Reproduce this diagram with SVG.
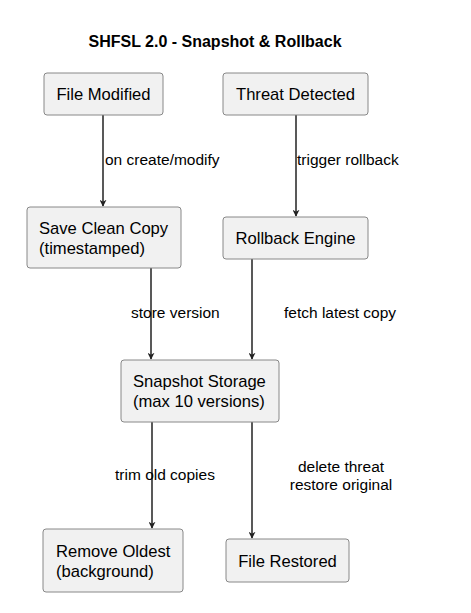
<svg xmlns="http://www.w3.org/2000/svg" width="471" height="613" viewBox="0 0 471 613">
<defs>
<style>
.n{fill:#f1f1f1;stroke:#888;stroke-width:1}
.t{font-family:"Liberation Sans",Arial,sans-serif;font-size:16.6px;fill:#000;text-anchor:middle}
.s{font-family:"Liberation Sans",Arial,sans-serif;font-size:16.6px;fill:#000;text-anchor:start}
.l{font-family:"Liberation Sans",Arial,sans-serif;font-size:15.5px;fill:#000}
.e{stroke:#222;stroke-width:1.5;fill:none;marker-end:url(#ah)}
</style>
<marker id="ah" viewBox="0 0 10 10" refX="9" refY="5" markerWidth="7" markerHeight="7" markerUnits="userSpaceOnUse" orient="auto">
<path d="M0,0 L10,5 L0,10 L3,5 z" fill="#222"/>
</marker>
</defs>
<rect width="471" height="613" fill="#fff"/>
<text x="215" y="47" font-family="Liberation Sans,Arial,sans-serif" font-size="16" font-weight="bold" text-anchor="middle">SHFSL 2.0 - Snapshot &amp; Rollback</text>
<g id="edges">
<line class="e" x1="103" y1="115" x2="103" y2="206"/>
<line class="e" x1="296" y1="115" x2="296" y2="216"/>
<line class="e" x1="151" y1="268" x2="151" y2="359"/>
<line class="e" x1="252" y1="259" x2="252" y2="359"/>
<line class="e" x1="152" y1="422" x2="152" y2="528"/>
<line class="e" x1="252" y1="422" x2="252" y2="538"/>
<text class="l" x="105" y="165">on create/modify</text>
<text class="l" x="297" y="165">trigger rollback</text>
<text class="l" x="131" y="318">store version</text>
<text class="l" x="284" y="318">fetch latest copy</text>
<text class="l" x="115" y="480">trim old copies</text>
<text class="l" x="341" y="472" text-anchor="middle">delete threat</text>
<text class="l" x="341" y="490" text-anchor="middle">restore original</text>
</g>
<g id="file-modified"><rect class="n" x="44" y="73" width="119" height="42" rx="3"/><text class="t" x="103.5" y="100">File Modified</text></g>
<g id="threat-detected"><rect class="n" x="223" y="73" width="145" height="42" rx="3"/><text class="t" x="295.5" y="100">Threat Detected</text></g>
<g id="save-clean-copy"><rect class="n" x="27" y="207" width="154" height="61" rx="3"/><text class="s" x="39" y="234">Save Clean Copy</text><text class="s" x="39" y="254">(timestamped)</text></g>
<g id="rollback-engine"><rect class="n" x="223" y="217" width="145" height="42" rx="3"/><text class="t" x="295.5" y="244">Rollback Engine</text></g>
<g id="snapshot-storage"><rect class="n" x="121" y="360" width="158" height="62" rx="3"/><text class="s" x="133" y="387">Snapshot Storage</text><text class="s" x="133" y="407">(max 10 versions)</text></g>
<g id="remove-oldest"><rect class="n" x="43" y="529" width="140" height="63" rx="3"/><text class="s" x="56" y="557">Remove Oldest</text><text class="s" x="56" y="577">(background)</text></g>
<g id="file-restored"><rect class="n" x="226" y="539" width="123" height="43" rx="3"/><text class="t" x="287.5" y="567">File Restored</text></g>
</svg>
